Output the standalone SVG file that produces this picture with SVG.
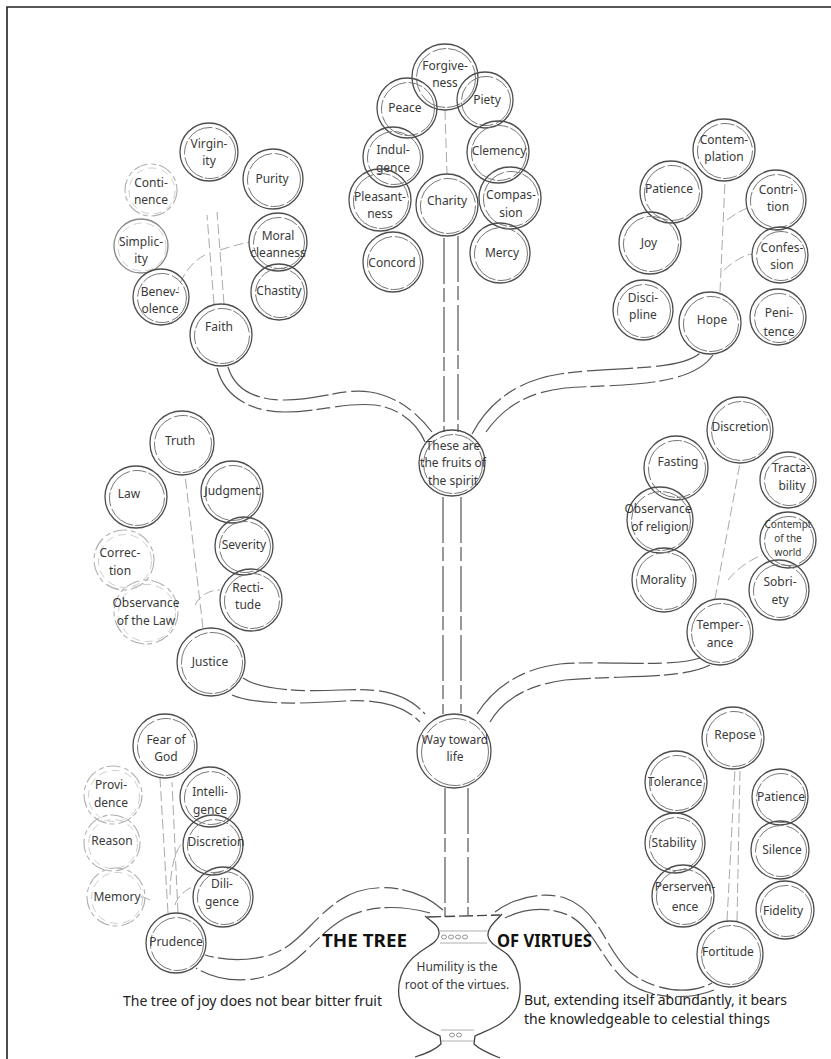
<svg xmlns="http://www.w3.org/2000/svg" width="831" height="1059" viewBox="0 0 831 1059">
<style>
.o{fill:none;stroke:#4d4d4d;stroke-width:1.3}
.i{fill:none;stroke:#777;stroke-width:1;stroke-dasharray:28 3 14 2}
.fo{fill:none;stroke:#b0b0b0;stroke-width:1.1;stroke-dasharray:14 4 5 3}
.fi{fill:none;stroke:#c8c8c8;stroke-width:0.9;stroke-dasharray:8 5}
.t{font-family:"Noto Sans","Open Sans",sans-serif;font-size:12px;fill:#3a3a3a;text-anchor:middle}
.t3{font-family:"Noto Sans","Open Sans",sans-serif;font-size:10px;fill:#3a3a3a;text-anchor:middle}
.b{fill:none;stroke:#555;stroke-width:1.2;stroke-dasharray:46 4 14 5}
.s{fill:none;stroke:#aaa;stroke-width:1;stroke-dasharray:10 4}
.v{fill:none;stroke:#444;stroke-width:1.3}
.big{font-family:"Noto Sans","Open Sans",sans-serif;font-size:17px;font-weight:bold;fill:#111}
.cap{font-family:"Noto Sans","Open Sans",sans-serif;font-size:14px;fill:#222}
</style>
<rect width="831" height="1059" fill="#fff"/>
<path d="M7,1059 L7,7 L831,7" fill="none" stroke="#222" stroke-width="1.6"/>

<g id="connectors">
  <path class="b" d="M444,238 L444,432 M458,236 L458,432"/>
  <path class="b" d="M443,497 L443,714 M461,497 L461,713"/>
  <path class="b" d="M445,788 L445,917 M468,788 L468,915"/>
  <path class="b" d="M228,367 C235,390 255,400 285,400 C320,400 342,388 370,392 C395,396 415,410 432,432"/>
  <path class="b" d="M217,368 C224,396 250,412 285,412 C320,412 345,402 375,405 C400,408 418,425 425,442"/>
  <path class="b" d="M472,434 C490,400 520,380 560,374 C610,366 680,372 700,353"/>
  <path class="b" d="M486,432 C505,405 530,392 565,388 C620,384 690,388 713,355"/>
  <path class="b" d="M243,678 C260,690 300,692 340,690 C380,688 405,692 425,714"/>
  <path class="b" d="M232,695 C255,705 300,704 345,701 C380,699 405,706 420,722"/>
  <path class="b" d="M477,714 C495,685 525,668 560,664 C610,660 670,668 700,658"/>
  <path class="b" d="M490,722 C505,697 530,685 565,680 C620,675 680,680 710,665"/>
  <path class="b" d="M443,910 C415,885 370,880 340,900 C310,920 300,945 270,955 C245,962 222,960 205,955"/>
  <path class="b" d="M430,913 C400,905 370,905 345,918 C315,935 300,965 270,975 C240,985 212,978 196,968"/>
  <path class="b" d="M495,912 C510,900 540,890 565,898 C600,910 605,950 630,972 C655,992 690,995 712,983"/>
  <path class="b" d="M505,918 C525,908 550,906 570,916 C595,930 602,962 627,982 C652,1000 690,1000 714,990"/>
  <path class="s" d="M214,304 L207,215 M224,304 L217,212 M205,255 C190,262 180,280 178,290 M220,250 C235,245 245,243 250,242"/>
  <path class="s" d="M445,110 L447,174"/>
  <path class="s" d="M720,292 L725,181 M724,270 C735,260 745,255 752,254 M727,220 C735,214 742,210 748,208"/>
  <path class="s" d="M203,628 L185,475 M195,605 C200,595 210,590 220,590"/>
  <path class="s" d="M715,599 L740,463 M728,580 C740,565 755,558 762,555"/>
  <path class="s" d="M168,913 L160,778 M178,913 L172,782 M170,895 C170,870 175,850 183,842 M175,905 C178,895 188,888 195,886 M150,900 C145,898 142,896 140,897"/>
  <path class="s" d="M727,921 L735,769 M737,921 L740,770"/>
</g>

<g id="n-virginity"><circle class="o" cx="209" cy="152" r="29"/><circle class="i" cx="210" cy="153" r="25.5"/><text class="t" x="209" y="148">Virgin-</text><text class="t" x="209" y="165">ity</text></g>
<g id="n-continence"><circle class="fo" cx="151" cy="190" r="26"/><circle class="fi" cx="152" cy="191" r="23"/><text class="t" x="151" y="187">Conti-</text><text class="t" x="151" y="204">nence</text></g>
<g id="n-simplicity"><circle class="o" cx="141" cy="246" r="27" style="stroke:#888"/><circle class="fi" cx="142" cy="247" r="24"/><text class="t" x="141" y="246">Simplic-</text><text class="t" x="141" y="263">ity</text></g>
<g id="n-benevolence"><circle class="o" cx="161" cy="297" r="28"/><circle class="i" cx="162" cy="298" r="24.5"/><text class="t" x="160" y="296">Benev-</text><text class="t" x="160" y="313">olence</text></g>
<g id="n-faith"><circle class="o" cx="221" cy="335" r="31"/><circle class="i" cx="222" cy="336" r="27.5"/><text class="t" x="219" y="331">Faith</text></g>
<g id="n-purity"><circle class="o" cx="273" cy="179" r="30"/><circle class="i" cx="274" cy="180" r="26.5"/><text class="t" x="272" y="183">Purity</text></g>
<g id="n-moral"><circle class="o" cx="278" cy="242" r="29"/><circle class="i" cx="279" cy="243" r="25.5"/><text class="t" x="278" y="240">Moral</text><text class="t" x="278" y="257">cleanness</text></g>
<g id="n-chastity"><circle class="o" cx="279" cy="292" r="28"/><circle class="i" cx="280" cy="293" r="24.5"/><text class="t" x="279" y="295">Chastity</text></g>

<g id="n-forgiveness"><circle class="o" cx="445" cy="77" r="33"/><circle class="i" cx="446" cy="78" r="29.5"/><text class="t" x="445" y="70">Forgive-</text><text class="t" x="445" y="87">ness</text></g>
<g id="n-peace"><circle class="o" cx="407" cy="108" r="30"/><circle class="i" cx="408" cy="109" r="26.5"/><text class="t" x="405" y="112">Peace</text></g>
<g id="n-piety"><circle class="o" cx="485" cy="100" r="28"/><circle class="i" cx="486" cy="101" r="24.5"/><text class="t" x="487" y="104">Piety</text></g>
<g id="n-indulgence"><circle class="o" cx="393" cy="157" r="30"/><circle class="i" cx="394" cy="158" r="26.5"/><text class="t" x="393" y="154">Indul-</text><text class="t" x="393" y="172">gence</text></g>
<g id="n-clemency"><circle class="o" cx="498" cy="152" r="31"/><circle class="i" cx="499" cy="153" r="27.5"/><text class="t" x="499" y="155">Clemency</text></g>
<g id="n-pleasantness"><circle class="o" cx="380" cy="200" r="31"/><circle class="i" cx="381" cy="201" r="27.5"/><text class="t" x="380" y="201">Pleasant-</text><text class="t" x="380" y="218">ness</text></g>
<g id="n-charity"><circle class="o" cx="447" cy="205" r="31"/><circle class="i" cx="448" cy="206" r="27.5"/><text class="t" x="447" y="205">Charity</text></g>
<g id="n-compassion"><circle class="o" cx="510" cy="198" r="31"/><circle class="i" cx="511" cy="199" r="27.5"/><text class="t" x="511" y="199">Compas-</text><text class="t" x="511" y="217">sion</text></g>
<g id="n-concord"><circle class="o" cx="393" cy="262" r="30"/><circle class="i" cx="394" cy="263" r="26.5"/><text class="t" x="392" y="267">Concord</text></g>
<g id="n-mercy"><circle class="o" cx="500" cy="253" r="30"/><circle class="i" cx="501" cy="254" r="26.5"/><text class="t" x="502" y="257">Mercy</text></g>

<g id="n-contemplation"><circle class="o" cx="724" cy="150" r="31"/><circle class="i" cx="725" cy="151" r="27.5"/><text class="t" x="724" y="144">Contem-</text><text class="t" x="724" y="161">plation</text></g>
<g id="n-patience-h"><circle class="o" cx="671" cy="192" r="31"/><circle class="i" cx="672" cy="193" r="27.5"/><text class="t" x="669" y="193">Patience</text></g>
<g id="n-contrition"><circle class="o" cx="776" cy="200" r="30"/><circle class="i" cx="777" cy="201" r="26.5"/><text class="t" x="778" y="194">Contri-</text><text class="t" x="778" y="211">tion</text></g>
<g id="n-joy"><circle class="o" cx="650" cy="243" r="31"/><circle class="i" cx="651" cy="244" r="27.5"/><text class="t" x="649" y="247">Joy</text></g>
<g id="n-confession"><circle class="o" cx="780" cy="255" r="28"/><circle class="i" cx="781" cy="256" r="24.5"/><text class="t" x="782" y="252">Confes-</text><text class="t" x="782" y="269">sion</text></g>
<g id="n-discipline"><circle class="o" cx="643" cy="310" r="30"/><circle class="i" cx="644" cy="311" r="26.5"/><text class="t" x="643" y="302">Disci-</text><text class="t" x="643" y="319">pline</text></g>
<g id="n-hope"><circle class="o" cx="710" cy="323" r="31"/><circle class="i" cx="711" cy="324" r="27.5"/><text class="t" x="712" y="324">Hope</text></g>
<g id="n-penitence"><circle class="o" cx="778" cy="317" r="28"/><circle class="i" cx="779" cy="318" r="24.5"/><text class="t" x="779" y="317">Peni-</text><text class="t" x="779" y="336">tence</text></g>

<g id="n-fruits"><circle class="o" cx="452" cy="463" r="33"/><circle class="i" cx="453" cy="464" r="29.5"/><text class="t" x="453" y="450">These are</text><text class="t" x="453" y="467">the fruits of</text><text class="t" x="453" y="485">the spirit</text></g>

<g id="n-truth"><circle class="o" cx="182" cy="443" r="32"/><circle class="i" cx="183" cy="444" r="28.5"/><text class="t" x="180" y="445">Truth</text></g>
<g id="n-law"><circle class="o" cx="136" cy="497" r="31"/><circle class="i" cx="137" cy="498" r="27.5"/><text class="t" x="129" y="498">Law</text></g>
<g id="n-judgment"><circle class="o" cx="232" cy="492" r="31"/><circle class="i" cx="233" cy="493" r="27.5"/><text class="t" x="232" y="495">Judgment</text></g>
<g id="n-correction"><circle class="fo" cx="124" cy="560" r="30"/><circle class="fi" cx="125" cy="561" r="26.5"/><text class="t" x="120" y="557">Correc-</text><text class="t" x="120" y="575">tion</text></g>
<g id="n-severity"><circle class="o" cx="244" cy="546" r="29"/><circle class="i" cx="245" cy="547" r="25.5"/><text class="t" x="244" y="549">Severity</text></g>
<g id="n-rectitude"><circle class="o" cx="251" cy="600" r="31"/><circle class="i" cx="252" cy="601" r="27.5"/><text class="t" x="248" y="592">Recti-</text><text class="t" x="248" y="609">tude</text></g>
<g id="n-observance-law"><circle class="fo" cx="146" cy="612" r="32"/><circle class="fi" cx="147" cy="613" r="28.5"/><text class="t" x="146" y="607">Observance</text><text class="t" x="146" y="625">of the Law</text></g>
<g id="n-justice"><circle class="o" cx="211" cy="662" r="34"/><circle class="i" cx="212" cy="663" r="30.5"/><text class="t" x="210" y="666">Justice</text></g>

<g id="n-discretion-t"><circle class="o" cx="740" cy="430" r="33"/><circle class="i" cx="741" cy="431" r="29.5"/><text class="t" x="740" y="431">Discretion</text></g>
<g id="n-fasting"><circle class="o" cx="676" cy="468" r="32"/><circle class="i" cx="677" cy="469" r="28.5"/><text class="t" x="678" y="466">Fasting</text></g>
<g id="n-tractability"><circle class="o" cx="788" cy="480" r="28"/><circle class="i" cx="789" cy="481" r="24.5"/><text class="t" x="791" y="472">Tracta-</text><text class="t" x="792" y="490">bility</text></g>
<g id="n-observance-religion"><circle class="o" cx="660" cy="520" r="33"/><circle class="i" cx="661" cy="521" r="29.5"/><text class="t" x="658" y="513">Observance</text><text class="t" x="660" y="531">of religion</text></g>
<g id="n-contempt"><circle class="o" cx="788" cy="540" r="28"/><circle class="i" cx="789" cy="541" r="24.5"/><text class="t3" x="788" y="528">Contempt</text><text class="t3" x="788" y="542">of the</text><text class="t3" x="788" y="556">world</text></g>
<g id="n-morality"><circle class="o" cx="664" cy="580" r="32"/><circle class="i" cx="665" cy="581" r="28.5"/><text class="t" x="663" y="584">Morality</text></g>
<g id="n-sobriety"><circle class="o" cx="779" cy="590" r="30"/><circle class="i" cx="780" cy="591" r="26.5"/><text class="t" x="780" y="586">Sobri-</text><text class="t" x="780" y="604">ety</text></g>
<g id="n-temperance"><circle class="o" cx="720" cy="632" r="33"/><circle class="i" cx="721" cy="633" r="29.5"/><text class="t" x="720" y="629">Temper-</text><text class="t" x="720" y="647">ance</text></g>

<g id="n-way"><circle class="o" cx="454" cy="751" r="37"/><circle class="i" cx="455" cy="752" r="33.5"/><text class="t" x="455" y="744">Way toward</text><text class="t" x="455" y="761">life</text></g>

<g id="n-fear"><circle class="o" cx="165" cy="746" r="32"/><circle class="i" cx="166" cy="747" r="28.5"/><text class="t" x="166" y="744">Fear of</text><text class="t" x="166" y="761">God</text></g>
<g id="n-providence"><circle class="fo" cx="113" cy="795" r="29"/><circle class="fi" cx="114" cy="796" r="25.5"/><text class="t" x="111" y="789">Provi-</text><text class="t" x="111" y="807">dence</text></g>
<g id="n-intelligence"><circle class="o" cx="210" cy="797" r="30"/><circle class="i" cx="211" cy="798" r="26.5"/><text class="t" x="210" y="796">Intelli-</text><text class="t" x="210" y="814">gence</text></g>
<g id="n-reason"><circle class="fo" cx="112" cy="843" r="28"/><circle class="fi" cx="113" cy="844" r="24.5"/><text class="t" x="112" y="845">Reason</text></g>
<g id="n-discretion-p"><circle class="o" cx="213" cy="845" r="30"/><circle class="i" cx="214" cy="846" r="26.5"/><text class="t" x="216" y="846">Discretion</text></g>
<g id="n-memory"><circle class="fo" cx="116" cy="897" r="29"/><circle class="fi" cx="117" cy="898" r="25.5"/><text class="t" x="117" y="901">Memory</text></g>
<g id="n-diligence"><circle class="o" cx="223" cy="897" r="30"/><circle class="i" cx="224" cy="898" r="26.5"/><text class="t" x="222" y="888">Dili-</text><text class="t" x="222" y="906">gence</text></g>
<g id="n-prudence"><circle class="o" cx="176" cy="943" r="30"/><circle class="i" cx="177" cy="944" r="26.5"/><text class="t" x="176" y="946">Prudence</text></g>

<g id="n-repose"><circle class="o" cx="733" cy="738" r="31"/><circle class="i" cx="734" cy="739" r="27.5"/><text class="t" x="735" y="739">Repose</text></g>
<g id="n-tolerance"><circle class="o" cx="676" cy="782" r="31"/><circle class="i" cx="677" cy="783" r="27.5"/><text class="t" x="675" y="786">Tolerance</text></g>
<g id="n-patience-f"><circle class="o" cx="780" cy="797" r="28"/><circle class="i" cx="781" cy="798" r="24.5"/><text class="t" x="781" y="801">Patience</text></g>
<g id="n-stability"><circle class="o" cx="675" cy="843" r="30"/><circle class="i" cx="676" cy="844" r="26.5"/><text class="t" x="674" y="847">Stability</text></g>
<g id="n-silence"><circle class="o" cx="780" cy="850" r="29"/><circle class="i" cx="781" cy="851" r="25.5"/><text class="t" x="782" y="854">Silence</text></g>
<g id="n-perseverence"><circle class="o" cx="683" cy="896" r="31"/><circle class="i" cx="684" cy="897" r="27.5"/><text class="t" x="685" y="891">Perserven-</text><text class="t" x="685" y="911">ence</text></g>
<g id="n-fidelity"><circle class="o" cx="785" cy="910" r="29"/><circle class="i" cx="786" cy="911" r="25.5"/><text class="t" x="783" y="915">Fidelity</text></g>
<g id="n-fortitude"><circle class="o" cx="730" cy="954" r="33"/><circle class="i" cx="731" cy="955" r="29.5"/><text class="t" x="728" y="956">Fortitude</text></g>

<g id="n-root">
  <path class="v" d="M427,917 L500,915" stroke-dasharray="14 4 10 4"/>
  <path class="v" d="M425,916 C432,922 440,926 439,934 C438,942 430,945 420,952 C400,966 396,986 400,1002 C405,1020 428,1030 440,1036 L441,1044 C435,1050 425,1054 415,1057"/>
  <path class="v" d="M502,914 C495,922 487,928 488,936 C489,944 500,948 508,955 C520,968 524,990 516,1008 C506,1025 487,1030 475,1036 L474,1044 C480,1050 490,1054 500,1058"/>
  <path d="M440,931 L487,931 M440,943 L487,943 M441,1030 L474,1030 M441,1041 L474,1041" fill="none" stroke="#999" stroke-width="0.8"/>
  <g fill="none" stroke="#777" stroke-width="0.8">
    <ellipse cx="444" cy="937" rx="2.5" ry="2"/><ellipse cx="451" cy="937" rx="2.5" ry="2"/><ellipse cx="458" cy="937" rx="2.5" ry="2"/><ellipse cx="465" cy="937" rx="2.5" ry="2"/>
    <ellipse cx="452" cy="1035" rx="2.5" ry="2"/><ellipse cx="459" cy="1035" rx="2.5" ry="2"/>
  </g>
  <text class="t" x="457" y="971">Humility is the</text>
  <text class="t" x="457" y="989">root of the virtues.</text>
</g>

<g id="titles">
  <text class="big" x="322" y="947" textLength="85" lengthAdjust="spacingAndGlyphs">THE TREE</text>
  <text class="big" x="497" y="947" textLength="95" lengthAdjust="spacingAndGlyphs">OF VIRTUES</text>
  <text class="cap" x="123" y="1006" textLength="259">The tree of joy does not bear bitter fruit</text>
  <text class="cap" x="524" y="1005" textLength="263">But, extending itself abundantly, it bears</text>
  <text class="cap" x="524" y="1024" textLength="246">the knowledgeable to celestial things</text>
</g>
</svg>
